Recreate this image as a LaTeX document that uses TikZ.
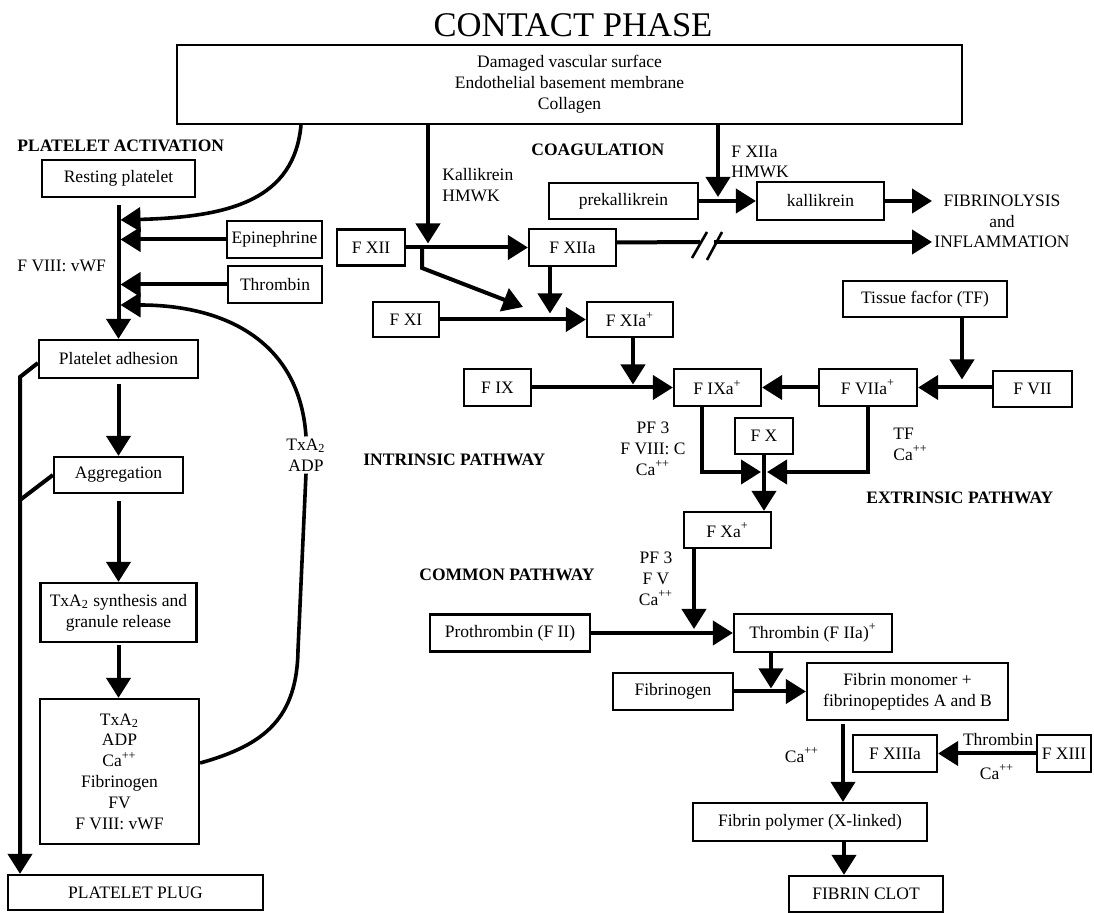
\documentclass[tikz,border=0pt]{standalone}
\usepackage{fontspec}
\setmainfont{Liberation Serif}
\usetikzlibrary{arrows.meta,calc}

\begin{document}
\begin{tikzpicture}[x=0.5pt,y=-0.5pt,font=\fontsize{8.75}{10.4}\selectfont,
  box/.style={draw,line width=1.1pt,inner sep=2pt,align=center},
  arr/.style={line width=2pt,-{Triangle[length=10pt,width=12pt]}},
  bar/.style={line width=2pt},
  hdr/.style={font=\fontsize{8.75}{10.4}\selectfont\bfseries,anchor=west,inner sep=0pt},
  lbl/.style={align=center,inner sep=1pt}]
  \useasboundingbox (0,0) rectangle (1094,913);
  \node[font=\fontsize{17.3}{20}\selectfont] (title) at (573,25) {CONTACT PHASE};
  \node[box,minimum width=392.5pt,minimum height=39.5pt] (contact) at (569.5,84.5) {Damaged vascular surface\\Endothelial basement membrane\\Collagen};

  \node[hdr] (pa) at (17,146) {PLATELET ACTIVATION};
  \node[box,minimum width=76.5pt,minimum height=18.5pt] (rest) at (118.5,178.5) {Resting platelet};
  \node[box,minimum width=47.5pt,minimum height=18.5pt] (epi) at (274.5,239.5) {Epinephrine};
  \node[box,minimum width=47pt,minimum height=18.5pt] (thr) at (275,284.5) {Thrombin};
  \node[lbl,anchor=west,inner sep=0pt] (vwf) at (17,266) {F VIII: vWF};
  \node[box,minimum width=79.5pt,minimum height=19pt] (adh) at (118.5,359) {Platelet adhesion};
  \node[box,minimum width=64.5pt,minimum height=18pt] (agg) at (118.5,475) {Aggregation};
  \node[box,minimum width=78pt,minimum height=29.5pt] (syn) at (118.5,612.5) {TxA\textsubscript{2} synthesis and\\granule release};
  \node[box,minimum width=79.5pt,minimum height=72.5pt] (rel) at (119.5,771.5) {TxA\textsubscript{2}\\ADP\\Ca\textsuperscript{++}\\Fibrinogen\\FV\\F VIII: vWF};
  \node[box,minimum width=127.5pt,minimum height=17.5pt] (plug) at (135.5,892.5) {PLATELET PLUG};
  \node[lbl] (txa) at (306,455) {TxA\textsubscript{2}\\ADP};

  \coordinate (j1) at (118.5,220);
  \coordinate (j4) at (118.5,305);
  \draw[arr,shorten <=3.5pt] (rest) -- (rest.south |- adh.north);
  \draw[arr,shorten >=1pt] (epi) -- (rest.south |- epi);
  \draw[arr,shorten >=1pt] (thr) -- (rest.south |- thr);
  \draw[arr,line width=1.8pt,shorten >=1pt] (301,0 |- contact.south) .. controls (294,200) and (230,217) .. (j1);
  \draw[arr,line width=1.8pt,shorten >=1pt] (txa.north) .. controls (300,345) and (230,305) .. (j4);
  \draw[bar,line width=1.8pt] ([yshift=4.25pt]rel.east) .. controls (265,745) and (297,718) .. (298,650) -- (txa.south);
  \draw[arr] ([yshift=-2pt]adh.west) -- (20,377) -- (20,0 |- plug.north);
  \draw[bar] (agg.west) -- (20,500);
  \draw[arr,shorten <=2.5pt] (adh) -- (agg);
  \draw[arr,shorten <=3.5pt] (agg) -- (syn);
  \draw[arr,shorten <=1pt] (syn.south) -- (syn.south |- rel.north);

  \node[hdr] (coag) at (531,150) {COAGULATION};
  \node[lbl,anchor=west,align=left,inner sep=0pt] (kk) at (442,185) {Kallikrein\\HMWK};
  \node[lbl,anchor=west,align=left,inner sep=0pt] (xh) at (731,162) {F XIIa\\HMWK};
  \node[box,minimum width=74.5pt,minimum height=18pt] (prek) at (623.5,201) {prekallikrein};
  \node[box,minimum width=63.5pt,minimum height=19pt] (kal) at (820.5,201) {kallikrein};
  \node[lbl] (fib) at (1002,221.5) {FIBRINOLYSIS\\and\\INFLAMMATION};
  \node[box,minimum width=34pt,minimum height=18pt] (fxii) at (371,247.5) {F XII};
  \node[box,minimum width=43.5pt,minimum height=18.5pt] (fxiia) at (572.5,247.5) {F XIIa};
  \node[box,minimum width=33pt,minimum height=17.5pt] (fxi) at (406,319.5) {F XI};
  \node[box,minimum width=43pt,minimum height=17.5pt] (fxia) at (630,319.5) {F XIa\textsuperscript{+}};
  \node[box,minimum width=82pt,minimum height=18pt] (tf) at (925,299) {Tissue facfor (TF)};
  \node[box,minimum width=33.5pt,minimum height=18.5pt] (fix) at (497.5,387.5) {F IX};
  \node[box,minimum width=43.5pt,minimum height=18.5pt] (fixa) at (717.5,387.5) {F IXa\textsuperscript{+}};
  \node[box,minimum width=49pt,minimum height=18.5pt] (fviia) at (868,387.5) {F VIIa\textsuperscript{+}};
  \node[box,minimum width=39.5pt,minimum height=18pt] (fvii) at (1032.5,389) {F VII};
  \node[box,minimum width=29pt,minimum height=18pt] (fx) at (764,436) {F X};
  \node[box,minimum width=43.5pt,minimum height=18pt] (fxa) at (727.5,530) {F Xa\textsuperscript{+}};
  \node[lbl] (cof1) at (653,448.5) {PF 3\\F VIII: C\\Ca\textsuperscript{++}};
  \node[lbl,anchor=west,align=left,inner sep=0pt] (cof2) at (893,444) {TF\\Ca\textsuperscript{++}};
  \node[hdr] (intr) at (363,460) {INTRINSIC PATHWAY};
  \node[hdr] (extr) at (866,498) {EXTRINSIC PATHWAY};
  \node[hdr] (comm) at (419,575) {COMMON PATHWAY};
  \node[lbl] (cof3) at (656,578.5) {PF 3\\F V\\Ca\textsuperscript{++}};
  \node[box,minimum width=80pt,minimum height=18.5pt] (proth) at (510,633) {Prothrombin (F II)};
  \node[box,minimum width=79pt,minimum height=19pt] (thrb) at (813,633) {Thrombin (F IIa)\textsuperscript{+}};
  \node[box,minimum width=60pt,minimum height=18.5pt] (fbg) at (673,691.5) {Fibrinogen};
  \node[box,minimum width=100.5pt,minimum height=28.5pt] (mono) at (907.5,691.5) {Fibrin monomer +\\fibrinopeptides A and B};
  \node[lbl] (ca1) at (802,755) {Ca\textsuperscript{++}};
  \node[box,minimum width=42pt,minimum height=18.5pt] (fxiiia) at (895,753.5) {F XIIIa};
  \node[box,minimum width=27pt,minimum height=18.5pt] (fxiii) at (1064,753.5) {F XIII};
  \node[lbl] (thr2) at (998,740) {Thrombin};
  \node[lbl] (ca2) at (997,772) {Ca\textsuperscript{++}};
  \node[box,minimum width=117pt,minimum height=19pt] (poly) at (810,822) {Fibrin polymer (X-linked)};
  \node[box,minimum width=77pt,minimum height=18pt] (clot) at (866,894) {FIBRIN CLOT};

  \draw[arr,shorten >=2pt] (428,0 |- contact.south) -- (428,0 |- fxii);
  \draw[arr] (fxii) -- (fxiia);
  \draw[arr] (422,0 |- fxii) -- (422,268) -- (523,307);
  \draw[arr,shorten >=3pt] (550,0 |- fxiia.south) -- (550,0 |- fxi);
  \draw[arr] (fxi) -- (fxia);
  \draw[arr,shorten >=2pt] (718,0 |- contact.south) -- (718,0 |- prek);
  \draw[arr] (prek) -- (kal);
  \draw[arr] (kal) -- (kal -| fib.west);
  \draw[bar] ([yshift=2.5pt]fxiia.east) -- (700,242);
  \draw[arr] (714,242) -- (fib.west |- 0,242);
  \draw[line width=1.3pt] (692,258) -- (707,232) (707,260) -- (722,232);
  \draw[arr,shorten >=1.5pt] (633,0 |- fxia.south) -- (633,0 |- fix);
  \draw[arr] (fix) -- (fixa);
  \draw[arr] (fviia) -- (fixa);
  \draw[arr] (fvii.west |- fviia) -- (fviia);
  \draw[arr,shorten >=4pt] (962,0 |- tf.south) -- (962,0 |- fviia);
  \coordinate (jx) at (764,472);
  \draw[arr,shorten >=1.5pt] (702,0 |- fixa.south) |- (jx);
  \draw[arr,shorten >=1.5pt] (fviia.south) |- (jx);
  \draw[arr] (fx.south) -- (fx.south |- fxa.north);
  \draw[arr,shorten >=2pt] (694,0 |- fxa.south) -- (694,0 |- thrb);
  \draw[arr] (proth) -- (thrb);
  \draw[arr,shorten >=1.5pt] (771,0 |- thrb.south) -- (771,0 |- fbg);
  \draw[arr] (fbg) -- (mono);
  \draw[arr,shorten <=1.5pt] (843,0 |- mono.south) -- (843,0 |- poly.north);
  \draw[arr] (fxiii) -- (fxiiia);
  \draw[arr] (844,0 |- poly.south) -- (844,0 |- clot.north);
\end{tikzpicture}
\end{document}
